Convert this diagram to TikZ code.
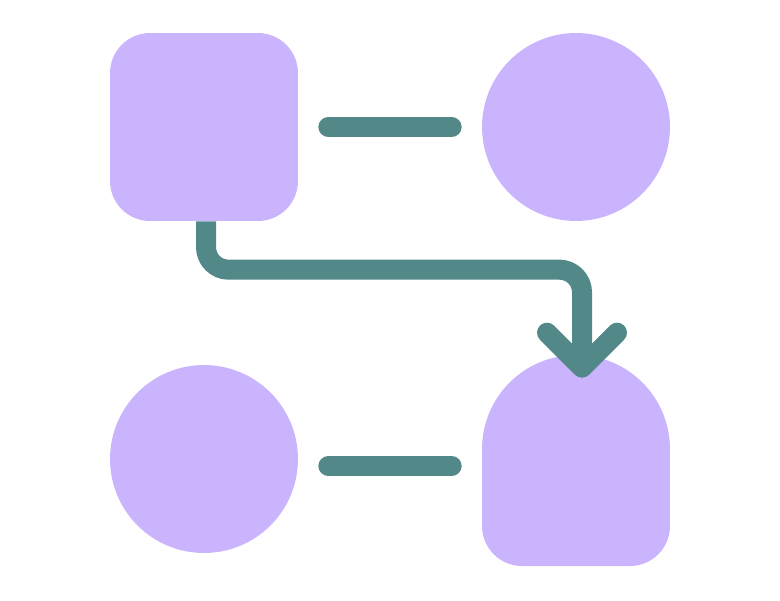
\documentclass[tikz,border=0pt]{standalone}
\usetikzlibrary{calc}
\definecolor{blockfill}{HTML}{CBB4FE}
\definecolor{linkteal}{HTML}{538889}
\tikzset{
  block/.style={fill=blockfill, inner sep=0pt, minimum size=3.76cm},
  link/.style={draw=linkteal, line width=0.4cm, line cap=round, line join=round}
}
\begin{document}
\begin{tikzpicture}[x=0.02cm, y=-0.02cm]
  \useasboundingbox (0,0) rectangle (780,600);
  % ---- blocks ----
  \node[block, rounded corners=0.8cm] (tl) at (204,127) {};
  \node[block, circle] (tr) at (576,127) {};
  \node[block, circle] (bl) at (204,459) {};
  \node[block, rounded corners=0.8cm, minimum height=3.14cm] (br) at (576,487.5) {};
  \node[block, circle] (brcap) at (576,449) {};
  % ---- plain links ----
  \draw[link, shorten <=0.6cm, shorten >=0.6cm] (tl.east) -- (tr.west);
  \draw[link, shorten <=0.6cm, shorten >=0.6cm] ([yshift=-0.14cm]bl.east) -- ([yshift=-0.14cm]bl.east -| br.west);
  % ---- bent arrow ----
  \coordinate (tip) at ($(brcap.north)+(6,13)$);
  \coordinate (turn) at ($(tip)+(0,-98)$);
  \draw[link, line cap=butt, rounded corners=0.45cm] ([xshift=0.04cm]tl.south) |- (turn) -- (tip);
  \draw[link] ($(tip)+(-35,-35)$) -- (tip) -- ($(tip)+(35,-35)$);
\end{tikzpicture}
\end{document}
